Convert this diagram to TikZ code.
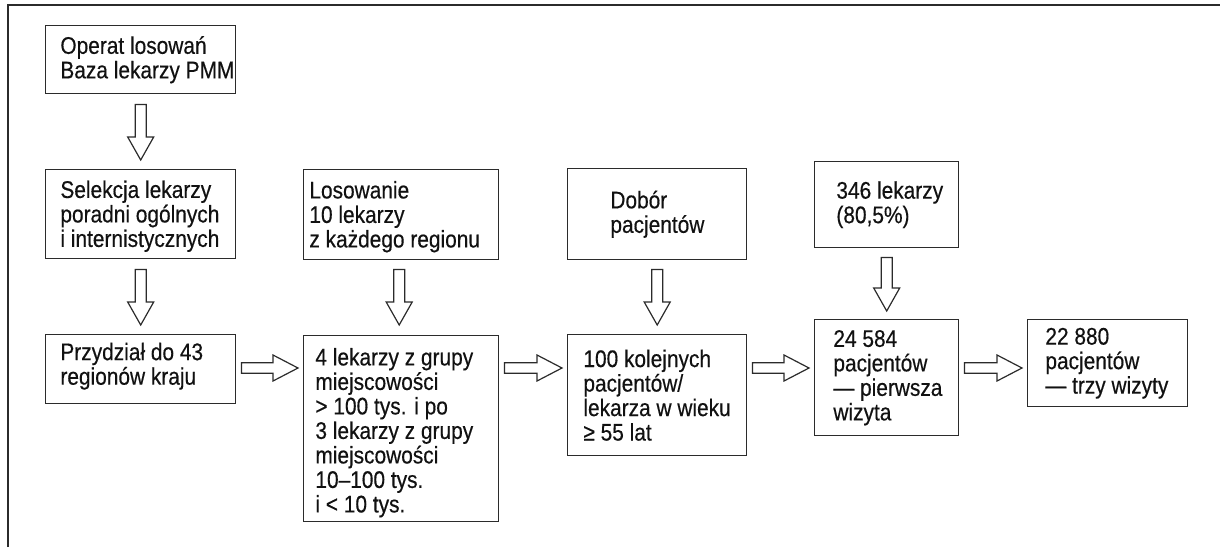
\documentclass[tikz,border=0pt]{standalone}
\usepackage{fontspec}
\setmainfont{Liberation Sans}[FakeStretch=0.87,FakeBold=0.4]
\usetikzlibrary{calc}
\definecolor{ln}{HTML}{2B2B2B}
\definecolor{tx}{HTML}{111111}
% hollow block arrow pointing down: #1 start (top), #2 tip
\newcommand\fatdown[2]{%
  \draw[fat] let \p1=#1, \p2=#2 in
    (\x1-2.75pt,\y1) -- (\x1+2.75pt,\y1) -- (\x1+2.75pt,\y2+11.5pt) --
    (\x1+6.5pt,\y2+11.5pt) -- (\x1,\y2) -- (\x1-6.5pt,\y2+11.5pt) --
    (\x1-2.75pt,\y2+11.5pt) -- cycle;}
% hollow block arrow pointing right: #1 start (left), #2 tip
\newcommand\fatright[2]{%
  \draw[fat] let \p1=#1, \p2=#2 in
    (\x1,\y1+2.6pt) -- (\x2-12.5pt,\y1+2.6pt) -- (\x2-12.5pt,\y1+6.5pt) --
    (\x2,\y1) -- (\x2-12.5pt,\y1-6.5pt) -- (\x2-12.5pt,\y1-2.6pt) --
    (\x1,\y1-2.6pt) -- cycle;}
\begin{document}
\begin{tikzpicture}[x=0.5pt,y=-0.5pt,
  box/.style={draw=ln, line width=0.7pt, inner sep=0pt, anchor=north west},
  txt/.style={inner sep=0pt, align=left, anchor=west, text=tx,
              font=\fontsize{12}{12.25}\selectfont},
  fat/.style={draw=ln, line width=0.6pt, fill=white, line join=miter}]
\useasboundingbox (0,0) rectangle (1220,547);
\draw[ln, line width=0.75pt] (8,547) -- (8,5) -- (1220,5);

% boxes
\node[box, minimum width=95pt, minimum height=34pt]   (op)   at (45,25)   {};
\node[box, minimum width=95pt, minimum height=44.5pt] (sel)  at (45,169)  {};
\node[box, minimum width=95pt, minimum height=34.5pt] (prz)  at (45,334)  {};
\node[box, minimum width=97.5pt, minimum height=45pt] (los)  at (303,169) {};
\node[box, minimum width=97.5pt, minimum height=93pt] (lek)  at (303,335) {};
\node[box, minimum width=89.5pt, minimum height=45.5pt] (dob) at (567,168) {};
\node[box, minimum width=89.5pt, minimum height=60.5pt] (kol) at (567,334) {};
\node[box, minimum width=72pt, minimum height=43pt]   (lk)   at (814,161) {};
\node[box, minimum width=72pt, minimum height=58pt]   (pw)   at (814,319) {};
\node[box, minimum width=80pt, minimum height=43.5pt] (tw)   at (1027,319) {};

% texts
\node[txt] (opT)  at ($(op.west)+(15,0)$)  {Operat losowań\\Baza lekarzy PMM};
\node[txt] (selT) at ($(sel.west)+(15,2)$) {Selekcja lekarzy\\poradni ogólnych\\i internistycznych};
\node[txt] (przT) at ($(prz.west)+(15,-3)$) {Przydział do 43\\regionów kraju};
\node[txt] (losT) at ($(los.west)+(6,2)$)  {Losowanie\\10 lekarzy\\z każdego regionu};
\node[txt] (lekT) at ($(lek.west)+(12,4)$) {4 lekarzy z grupy\\miejscowości\\> 100 tys. i po\\3 lekarzy z grupy\\miejscowości\\10–100 tys.\\i < 10 tys.};
\node[txt] (dobT) at ($(dob.west)+(43,0)$) {Dobór\\pacjentów};
\node[txt] (kolT) at ($(kol.west)+(16,0)$) {100 kolejnych\\pacjentów/\\lekarza w wieku\\≥ 55 lat};
\node[txt] (lkT)  at ($(lk.west)+(22,0)$)  {346 lekarzy\\(80,5\%)};
\node[txt] (pwT)  at ($(pw.west)+(19,0)$)  {24 584\\pacjentów\\— pierwsza\\wizyta};
\node[txt] (twT)  at ($(tw.west)+(18,0)$)  {22 880\\pacjentów\\— trzy wizyty};

% vertical arrows
\fatdown{($(op.south)+(0,10)$)}{($(sel.north)+(0,-9)$)}
\fatdown{($(sel.south)+(0,10)$)}{($(prz.north)+(0,-9)$)}
\fatdown{($(los.south)+(-2,9)$)}{($(lek.north)+(-2,-10)$)}
\fatdown{($(dob.south)+(0,9)$)}{($(kol.north)+(0,-9)$)}
\fatdown{($(lk.south)+(0,9)$)}{($(pw.north)+(0,-8)$)}

% horizontal arrows
\coordinate (ry) at (0,368);
\fatright{($(prz.east |- ry)+(5,0)$)}{($(lek.west |- ry)+(-5,0)$)}
\fatright{($(lek.east |- ry)+(5,0)$)}{($(kol.west |- ry)+(-5,0)$)}
\fatright{($(kol.east |- ry)+(5,0)$)}{($(pw.west |- ry)+(-5,0)$)}
\fatright{($(pw.east |- ry)+(5,0)$)}{($(tw.west |- ry)+(-5,0)$)}
\end{tikzpicture}
\end{document}
